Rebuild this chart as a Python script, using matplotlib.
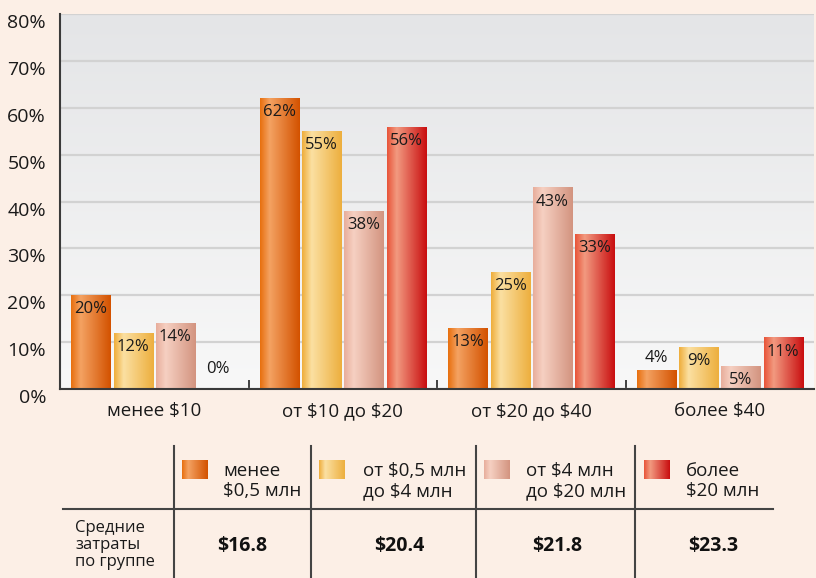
import numpy as np
import matplotlib
matplotlib.use('Agg')
import matplotlib.pyplot as plt
from matplotlib.colors import to_rgb
from matplotlib.lines import Line2D
from matplotlib.transforms import ScaledTranslation

plt.rcParams['font.family'] = ['Open Sans', 'DejaVu Sans']
plt.rcParams['text.parse_math'] = False

# ---------------- data ----------------
categories = ['менее $10', 'от $10 до $20', 'от $20 до $40', 'более $40']
series_names = ['менее\n$0,5 млн', 'от $0,5 млн\nдо $4 млн', 'от $4 млн\nдо $20 млн', 'более\n$20 млн']
s_small = [20, 62, 13, 4]
s_mid = [12, 55, 25, 9]
s_large = [14, 38, 43, 5]
s_huge = [0, 56, 33, 11]
series_values = [s_small, s_mid, s_large, s_huge]
avg_label = 'Средние\nзатраты\nпо группе'
avg_costs = ['$16.8', '$20.4', '$21.8', '$23.3']
y_ticks = [0, 10, 20, 30, 40, 50, 60, 70, 80]

# gradient stops (left, highlight, right) per series
grad_colors = [
    ('#E8700F', '#F4A262', '#D35200'),
    ('#EFAE3C', '#FBE0A2', '#EDAF3E'),
    ('#E8AE9C', '#F6D0C2', '#D39480'),
    ('#E8553A', '#F29A80', '#C90E10'),
]

W, H = 816, 578
BG = '#FCEFE6'
fig = plt.figure(figsize=(W / 100, H / 100), dpi=100, facecolor=BG)


def fx(px):
    return px / W


def fy(py):
    return 1 - py / H


def gradient_row(stops, n=64):
    c0, c1, c2 = [np.array(to_rgb(c)) for c in stops]
    t = np.linspace(0, 1, n)
    out = np.zeros((1, n, 3))
    hp = 0.24
    for i, tt in enumerate(t):
        if tt <= hp:
            f = tt / hp
            out[0, i] = c0 * (1 - f) + c1 * f
        else:
            f = (tt - hp) / (1 - hp)
            out[0, i] = c1 * (1 - f) + c2 * f
    return out


ax = fig.add_axes([fx(60), fy(389), fx(814) - fx(60), fy(14) - fy(389)])
ax.set_facecolor(BG)

# plot background vertical gradient
top = np.array(to_rgb('#E4E5E7'))
bot = np.array(to_rgb('#F8F8F8'))
tv = np.linspace(0, 1, 100)[:, None]
bg_img = (top * (1 - tv) + bot * tv)[:, None, :]
ax.imshow(bg_img, extent=[0, 1, 0, 1], transform=ax.transAxes, aspect='auto', zorder=0,
          interpolation='bilinear')

x = np.arange(len(categories))
bw = 0.207
pitch = 0.224
offsets = (np.arange(4) - 1.5) * pitch

for si, vals in enumerate(series_values):
    bars = ax.bar(x + offsets[si], vals, width=bw, facecolor='none', edgecolor='none', zorder=2)
    g = gradient_row(grad_colors[si])
    for rect, v in zip(bars, vals):
        if v > 0:
            x0 = rect.get_x()
            im = ax.imshow(g, extent=[x0, x0 + rect.get_width(), 0, v], aspect='auto',
                           zorder=2, interpolation='bilinear')
            im.set_clip_path(rect)
        ly = v - 3.0 if v >= 5 else max(v + 2.6, 4.3)
        ax.text(rect.get_x() + rect.get_width() / 2, ly, f'{v}%', ha='center', va='center',
                fontsize=12, color='#1a1a1a', zorder=3)

ax.set_xlim(-0.5, 3.5)
ax.set_ylim(0, 80)
ax.set_yticks(y_ticks)
ax.set_yticklabels([f'{v}%' for v in y_ticks])
ax.yaxis.grid(True, color='#D2D2D2', lw=1.6)
ax.set_axisbelow(True)
ax.tick_params(axis='y', length=0, pad=10, labelsize=14, labelcolor='#1a1a1a')
off = ScaledTranslation(0, -7 / 100, fig.dpi_scale_trans)
for lab in ax.get_yticklabels():
    lab.set_transform(lab.get_transform() + off)

ax.set_xticks(x)
ax.set_xticklabels(categories)
ax.tick_params(axis='x', which='major', length=0, pad=9.5, labelsize=13.5, labelcolor='#1a1a1a')
ax.set_xticks([0.5, 1.5, 2.5], minor=True)
ax.tick_params(axis='x', which='minor', direction='in', length=6.5, width=1.3, color='#333333')

for s in ['top', 'right']:
    ax.spines[s].set_visible(False)
for s in ['left', 'bottom']:
    ax.spines[s].set_color('#3a3a3a')
    ax.spines[s].set_linewidth(1.5)
    ax.spines[s].set_zorder(4)

# ---------------- table below ----------------
lc = '#444444'
fig.add_artist(Line2D([fx(63), fx(773)], [fy(509), fy(509)], transform=fig.transFigure,
                      color=lc, lw=1.5))
for vx in [174, 311, 476, 635]:
    fig.add_artist(Line2D([fx(vx), fx(vx)], [fy(446), fy(578)], transform=fig.transFigure,
                          color=lc, lw=1.5))

patch_x = [182, 319, 484, 644]
text_x = [223, 363, 526, 686]
value_x = [242, 399, 557, 713]
for i in range(4):
    pax = fig.add_axes([fx(patch_x[i]), fy(479), 26 / W, 19 / H])
    pax.imshow(gradient_row(grad_colors[i]), aspect='auto', interpolation='bilinear')
    pax.axis('off')
    fig.text(fx(text_x[i]), fy(481), series_names[i], ha='left', va='center', fontsize=13.5,
             color='#1a1a1a', linespacing=1.12)
    fig.text(fx(value_x[i]), fy(546), avg_costs[i], ha='center', va='center', fontsize=14,
             fontweight='bold', color='#111111')

fig.text(fx(75), fy(545), avg_label, ha='left', va='center', fontsize=12, color='#1a1a1a',
         linespacing=1.08)

fig.savefig('out.png', dpi=100, facecolor=BG)
